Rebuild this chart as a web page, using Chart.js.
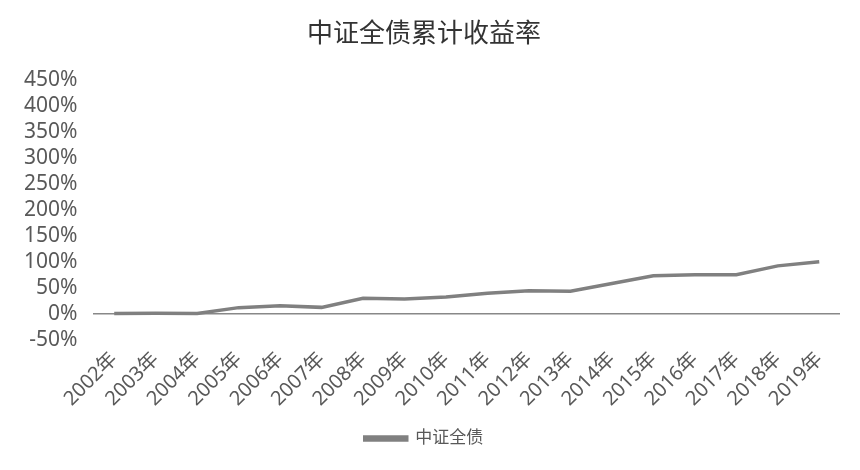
<!DOCTYPE html>
<html>
<head>
<meta charset="utf-8">
<script src="https://cdn.jsdelivr.net/npm/chart.js@4"></script>
<style>
 html, body { margin: 0; padding: 0; background: #fff; }
 #wrap { width: 860px; height: 470px; }
</style>
</head>
<body>
<div id="wrap"><canvas id="c"></canvas></div>
<script>
/* ── DATA ───────────────────────────────────────────────── */
const years = ['2002年','2003年','2004年','2005年','2006年','2007年','2008年','2009年','2010年',
 '2011年','2012年','2013年','2014年','2015年','2016年','2017年','2018年','2019年'];
const bondReturn = [0, 0.5, 0, 11.5, 15, 12, 29.5, 28, 32, 39, 44, 43, 58, 73, 75, 75, 92, 100];
const seriesName = '中证全债';
const chartTitle = '中证全债累计收益率';

/* ── CHART ──────────────────────────────────────────────── */
const FONT = "'Noto Sans', 'Noto Sans CJK SC', sans-serif";
const GREY = '#808080';
const TXT = '#595959';

new Chart(document.getElementById('c'), {
 type: 'line',
 data: {
 labels: years,
 datasets: [{
 label: seriesName,
 data: bondReturn,
 borderColor: GREY,
 backgroundColor: GREY,
 borderWidth: 3.5,
 pointRadius: 0,
 tension: 0
 }]
 },
 options: {
 responsive: true,
 maintainAspectRatio: false,
 animation: false,
 layout: { padding: { left: 8, right: 20, top: 6, bottom: 13 } },
 plugins: {
 title: {
 display: true,
 text: chartTitle,
 color: '#333',
 font: { family: FONT, size: 26, weight: 'normal' },
 padding: { top: 13, bottom: 30 }
 },
 legend: {
 position: 'bottom',
 labels: {
 color: TXT,
 font: { family: FONT, size: 17 },
 boxWidth: 42,
 boxHeight: 3
 }
 },
 tooltip: { enabled: false }
 },
 scales: {
 x: {
 offset: true,
 grid: { display: false },
 border: { display: false },
 afterFit: s => { s.height += 9; },
 ticks: {
 autoSkip: false,
 color: TXT,
 font: { family: FONT, size: 20 },
 minRotation: 45,
 maxRotation: 45,
 padding: 0
 }
 },
 y: {
 min: -50,
 max: 450,
 border: { display: false },
 grid: {
 drawTicks: false,
 lineWidth: 1.5,
 color: c => c.tick && c.tick.value === 0 ? '#888' : 'transparent'
 },
 ticks: {
 autoSkip: false,
 stepSize: 50,
 color: TXT,
 padding: 16,
 font: { family: FONT, size: 21 },
 callback: v => v + '%'
 }
 }
 }
 }
});
</script>
</body>
</html>
